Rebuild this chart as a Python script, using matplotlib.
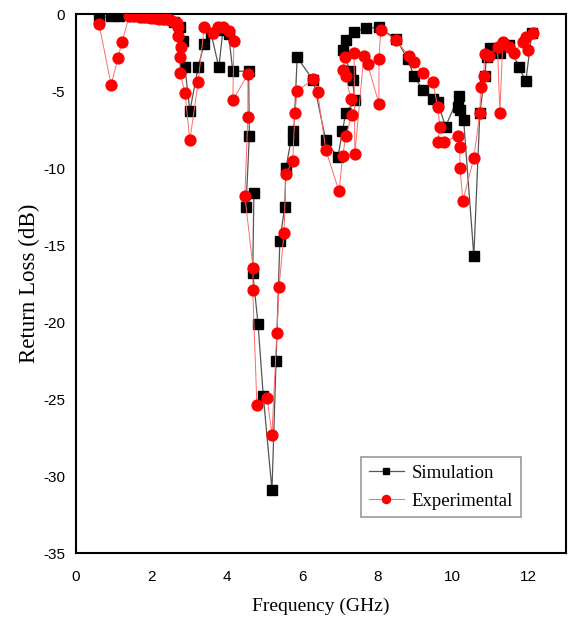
import matplotlib
matplotlib.use("Agg")
import matplotlib.pyplot as plt

# Simulation (black squares)
sim_f = [0.61, 0.93, 1.14, 1.5, 1.8, 2.0, 2.2, 2.4, 2.6, 2.75, 2.84, 2.89, 3.02, 3.24, 3.40,
         3.58, 3.79, 3.9, 4.05, 4.16, 4.58, 4.6, 4.51, 4.72, 4.69, 4.83, 4.97, 5.2, 5.31, 5.41,
         5.54, 5.57, 5.75, 5.77, 5.87, 6.3, 6.63, 6.95, 7.07, 7.16, 7.4, 7.34, 7.27, 7.08,
         7.16, 7.37, 7.69, 8.04, 8.5, 8.8, 8.97, 9.2, 9.47, 9.6, 9.81, 10.16, 10.13, 10.19,
         10.29, 10.56, 10.72, 10.85, 10.9, 11.0, 11.25, 11.5, 11.75, 11.94, 12.1]
sim_rl = [-0.3, -0.1, -0.1, -0.1, -0.15, -0.2, -0.2, -0.3, -0.5, -0.8, -1.75, -3.45, -6.3, -3.45, -1.9,
          -1.2, -3.45, -1.0, -1.3, -3.7, -3.7, -7.9, -12.5, -11.6, -16.8, -20.1, -24.8, -30.9, -22.5, -14.7,
          -12.5, -10.0, -7.6, -8.2, -2.8, -4.3, -8.2, -9.3, -7.6, -6.4, -5.6, -4.3, -3.7, -2.3,
          -1.7, -1.15, -0.9, -0.85, -1.6, -2.9, -4.0, -4.9, -5.5, -5.7, -7.3, -5.3, -6.0, -6.2,
          -6.9, -15.7, -6.4, -4.0, -2.8, -2.2, -2.5, -2.0, -3.4, -4.35, -1.2]

# Experimental (red circles)
exp_f = [0.61, 0.93, 1.11, 1.22, 1.41, 1.55, 1.7, 1.8, 1.9, 2.0, 2.1, 2.2, 2.3, 2.4, 2.5, 2.6,
         2.68, 2.7, 2.71, 2.78, 2.76, 2.76, 2.89, 3.02, 3.24, 3.40, 3.63, 3.76, 3.9, 4.06, 4.19,
         4.16, 4.56, 4.56, 4.48, 4.7, 4.69, 4.8, 5.07, 5.2, 5.33, 5.39, 5.52, 5.57, 5.75, 5.81,
         5.87, 6.3, 6.41, 6.63, 6.98, 7.08, 7.16, 7.32, 7.29, 7.16, 7.08, 7.14, 7.38, 7.4, 7.64,
         7.74, 8.04, 8.04, 8.09, 8.5, 8.83, 8.97, 9.2, 9.47, 9.6, 9.66, 9.6, 9.76, 10.13, 10.19,
         10.19, 10.27, 10.56, 10.72, 10.74, 10.82, 10.85, 10.95, 11.19, 11.25, 11.33, 11.49,
         11.62, 11.86, 11.99, 11.94, 12.12]
exp_rl = [-0.65, -4.6, -2.85, -1.8, -0.1, -0.1, -0.15, -0.15, -0.2, -0.25, -0.25, -0.3, -0.3, -0.3, -0.4, -0.5,
          -0.6, -0.8, -1.4, -2.1, -2.8, -3.8, -5.1, -8.2, -4.4, -0.85, -1.2, -0.85, -0.8, -1.1, -1.75,
          -5.6, -3.9, -6.7, -11.8, -16.5, -17.9, -25.4, -24.9, -27.3, -20.7, -17.7, -14.2, -10.4, -9.5, -6.4,
          -5.0, -4.2, -5.05, -8.8, -11.5, -9.2, -7.9, -6.55, -5.5, -4.0, -3.6, -2.75, -2.5, -9.1, -2.7,
          -3.25, -5.8, -2.9, -1.0, -1.7, -2.7, -3.1, -3.8, -4.4, -6.0, -7.3, -8.3, -8.3, -7.9, -8.6,
          -10.0, -12.1, -9.35, -6.4, -4.7, -4.0, -2.6, -2.7, -2.1, -6.4, -1.8, -2.15,
          -2.5, -1.8, -2.3, -1.5, -1.2]

x_ticks = [0, 2, 4, 6, 8, 10, 12]
y_ticks = [0, -5, -10, -15, -20, -25, -30, -35]

fig = plt.figure(figsize=(5.68, 6.2), dpi=100)
ax = fig.add_axes([0.134, 0.108, 0.862, 0.869])

ax.plot(sim_f, sim_rl, color="#555555", lw=0.9, marker="s", markersize=6.5,
        markerfacecolor="black", markeredgecolor="black", label="Simulation", zorder=2)
ax.plot(exp_f, exp_rl, color="#ff6a6a", lw=0.7, marker="o", markersize=7.8,
        markerfacecolor="#ff0000", markeredgecolor="#ff0000", label="Experimental", zorder=3)

ax.set_xlim(0, 13)
ax.set_ylim(-35, 0)
ax.set_xticks(x_ticks)
ax.set_yticks(y_ticks)
ax.set_xticklabels([str(t) for t in x_ticks], fontfamily="Liberation Sans", fontsize=11)
ax.set_yticklabels([str(t) for t in y_ticks], fontfamily="Liberation Sans", fontsize=11)
ax.tick_params(axis="both", length=0)
ax.tick_params(axis="x", pad=12)
ax.tick_params(axis="y", pad=8)
for s in ax.spines.values():
    s.set_linewidth(1.5)
    s.set_color("black")

ax.set_xlabel("Frequency (GHz)", fontfamily="Liberation Serif", fontsize=14, labelpad=10)
ax.set_ylabel("Return Loss (dB)", fontfamily="Liberation Serif", fontsize=16.5, labelpad=2)

leg = ax.legend(loc="lower left", bbox_to_anchor=(0.582, 0.066), prop={"family": "Liberation Serif", "size": 13.5},
                frameon=True, fancybox=False, framealpha=1, edgecolor="#999999", markerscale=0.75,
                handlelength=1.9, borderpad=0.4, borderaxespad=0, labelspacing=0.6, handletextpad=0.4)
leg.get_frame().set_linewidth(1.2)

fig.savefig("out.png", dpi=100)
